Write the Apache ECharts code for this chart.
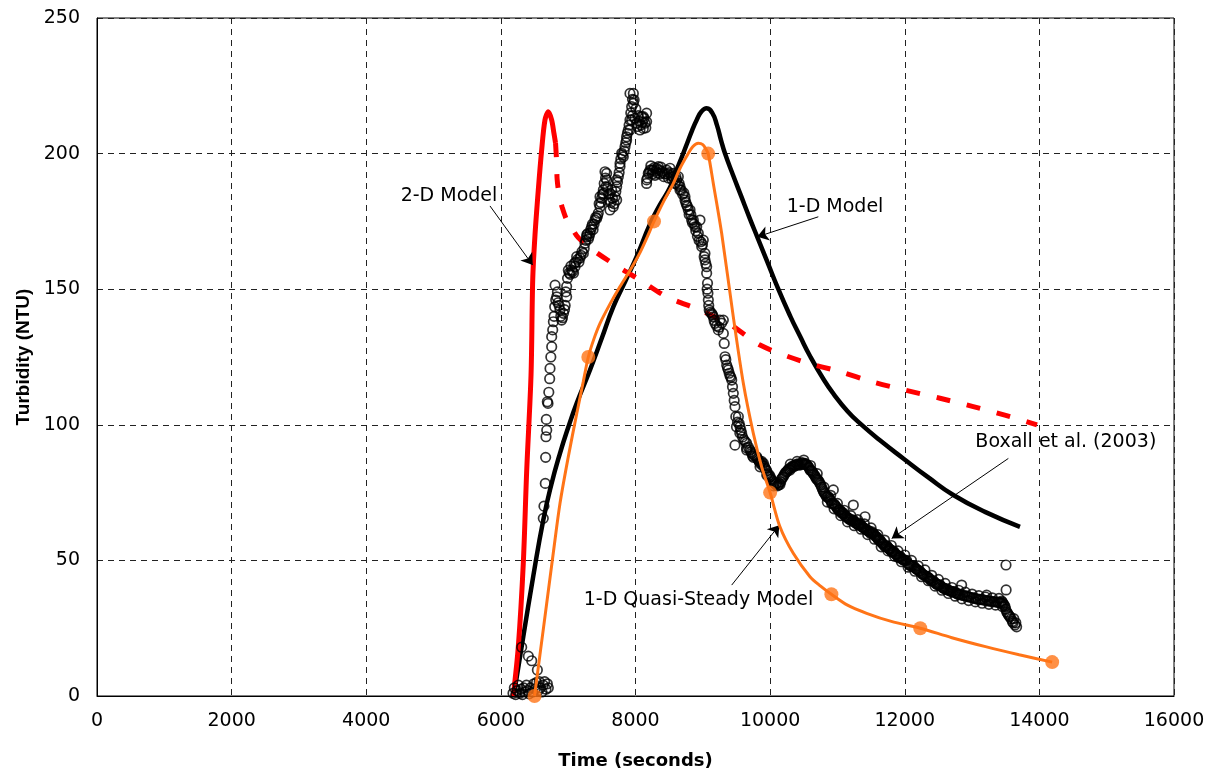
<!DOCTYPE html>
<html>
<head>
<meta charset="utf-8">
<script src="https://cdn.jsdelivr.net/npm/echarts@6/dist/echarts.min.js"></script>
<style>
html,body{margin:0;padding:0;background:#fff;}
#chart{width:1209px;height:775px;}
</style>
</head>
<body>
<div id="chart"></div>
<script>
// ---------- axis ticks ----------
const xTicks = {min: 0, max: 16000, step: 2000};
const yTicks = {min: 0, max: 250, step: 50};

// ---------- 2-D Model (solid part) [time s, turbidity NTU] ----------
const model2DSolid = [[6184,0],[6259,18.2],[6333,48.9],[6384,83.3],[6448,118.4],[6473,153.4],[6507,170],[6556,186.6],[6606,201.3],[6655,212.4],[6705,215.4],[6754,212.4],[6789,207.4],[6812,203.9]];

// ---------- 2-D Model (dashed continuation) ----------
const model2DDashed = [[6812,203.9],[6828,197],[6836,190.5],[6870,184],[6908,180.4],[6970,176],[7037,173.3],[7150,169],[7370,164.4],[7770,157.8],[8067,153.4],[8463,147.2],[8958,142.3],[9404,137],[9850,129.4],[10488,123.3],[11038,119.6],[11509,115.9],[12003,112.8],[12524,109.8],[13018,106.7],[13500,103.5],[13965,100]];

// ---------- 1-D Model ----------
const model1D = [[6190,0],[6333,21.9],[6480,44],[6630,64.9],[6750,78],[6878,89.5],[7000,99],[7126,107.9],[7324,120.2],[7500,132],[7670,143.5],[7850,153],[8017,162],[8215,174],[8360,181],[8512,187.5],[8611,194],[8700,199.5],[8770,204],[8840,208.5],[8909,212.4],[8980,215.5],[9057,216.7],[9140,215],[9210,210.5],[9270,205],[9330,200],[9450,192],[9570,184.3],[9690,176.6],[9810,169.2],[9960,160],[10122,150],[10300,140],[10443,132.7],[10600,125],[10800,116.5],[10939,111.5],[11150,105],[11335,100.5],[11650,93.9],[11978,87.6],[12350,80.6],[12721,74.1],[13200,67.8],[13712,62.4]];

// ---------- 1-D Quasi-Steady Model: curve and computed points ----------
const quasiCurve = [[6500,0],[6590,17],[6681,34.2],[6780,53],[6878,71],[7000,88],[7126,104],[7225,116],[7299,125],[7380,131.5],[7473,137.4],[7620,144.5],[7770,151],[7920,157],[8067,163.5],[8170,169],[8275,175],[8420,182.5],[8562,189],[8660,194.5],[8760,199],[8850,202.5],[8933,203.8],[9000,203.3],[9050,201.5],[9080,200],[9156,189],[9280,170.6],[9453,139.8],[9602,115.3],[9750,96.9],[9874,84.5],[10000,75],[10146,62.4],[10344,52.6],[10592,44],[10750,40.5],[10910,37.5],[11150,33.5],[11434,30.5],[11800,27.5],[12230,25],[12700,21.5],[13200,18.2],[13700,15.2],[14190,12.5]];
const quasiPoints = [[6500,0],[7299,125],[8275,175],[9080,200],[10000,75],[10910,37.5],[12230,25],[14190,12.5]];

// ---------- Boxall et al. (2003) measurements ----------
const boxallRise = [[6180,1],[6200,3],[6220,0.5],[6240,2],[6260,4],[6280,1],[6300,2.5],[6309,18],[6320,0.5],[6340,3],[6360,1.5],[6380,4],[6400,2],[6408,14.7],[6420,0.8],[6440,3],[6458,13],[6470,1.5],[6490,4.5],[6510,2.5],[6530,5],[6542,9.6],[6555,2],[6570,5.3],[6590,3],[6610,1.5],[6630,4],[6650,5.3],[6670,2.5],[6690,4.5],[6705,3],
[6630,65.5],[6660,78.4],[6670,95.6],[6681,98],[6700,107.9],[6690,108.5],[6725,117],[6730,120.8],[6755,128.8],[6755,132.5],[6780,138],[6800,143.5],[6830,147.2],[6805,151.5],[6850,145],[6878,142.3],[6903,138.6],[6930,141.1],[6955,144],[6977,147.2],[6977,151],[7002,157],[7030,155.5],[7052,157],[7080,156],[7101,158.3],[7126,162],[7160,160],[7190,162.5],[7225,163.2],[7250,166.9],[7275,169.3],[7275,170],[7300,168.5],[7324,170.6],[7349,173],[7370,172],[7398,175.5],[7423,176.1],[7447,178],[7473,180.4],[7473,184.1],[7497,183.5],[7522,186.6],[7522,185.3],[7547,193.3],[7560,187.8],[7571,192.7],[7571,190.3],[7600,185],[7621,185.3],[7621,179.2],[7645,186.6],[7670,180.4],[7695,184.1],[7720,187.8],[7720,182.9],[7720,190.3],[7745,191.5],[7770,195.2],[7770,196.4],[7795,200.1],[7819,198.8],[7844,202.5],[7868,205],[7868,206.2],[7893,208.7],[7918,208.7],[7918,212.4],[7918,222.2],[7943,212.4],[7943,217.3],[7968,218.5],[7968,222.2],[7980,219.8],[8017,211.2],[8040,214],[8067,208.7],[8091,213.6],[8116,213.6],[8116,209.3],[8141,211.2],[8165,211.8],[8165,214.9]];
const boxallRiseExtra = [[6640,70],[6665,88],[6675,102],[6712,112],[6742,125],[6770,135],[6790,140],[6815,146],[6840,149],[6865,144],[6890,140],[6915,139.5],[6945,142.5],[6965,149],[6990,154],[7015,156],[7040,158.5],[7065,156.5],[7090,159.5],[7113,160],[7140,161],[7175,161.5],[7205,163.8],[7238,165],[7262,168],[7288,170.5],[7312,169.5],[7336,172],[7360,174],[7385,174],[7410,176.5],[7435,177],[7460,181.5],[7485,182],[7510,185],[7535,189],[7555,191],[7585,187.5],[7610,183],[7633,182],[7658,183.5],[7683,181.5],[7708,186],[7733,189.5],[7757,193],[7782,198],[7807,199.5],[7832,201],[7856,204],[7880,207.5],[7905,210.5],[7930,215],[7955,220],[7955,214],[7990,213],[8005,216.5],[8030,210],[8055,212],[8080,210.5],[8103,211.5],[8128,213],[8153,209.5]];
const boxallFall = [[8165,190.3],[8165,189],[8190,192.7],[8215,193.9],[8240,194],[8264,193.9],[8290,192],[8315,194.5],[8339,195.2],[8365,192.5],[8390,193.5],[8420,191.5],[8463,193.9],[8490,191],[8512,194.6],[8540,190.5],[8562,192.7],[8590,189],[8611,190.3],[8636,191.5],[8661,187.8],[8661,186.6],[8700,185],[8735,184.1],[8735,182.9],[8760,181],[8785,179.2],[8810,179.2],[8834,175.5],[8859,175.5],[8884,173],[8909,173],[8933,170.6],[8958,175.5],[8983,165.7],[9007,168.1],[9032,163.2],[9032,160.8],[9057,158.3],[9057,155.9],[9070,152.2],[9082,146],[9095,142.3],[9132,141.1],[9156,139.8],[9181,137.4],[9230,135],[9255,138.6],[9305,138.6],[9305,133.7],[9330,125.1],[9355,122],[9379,120.2],[9405,118],[9429,116.5],[9453,111.6],[9466,109],[9478,106.7],[9500,99.3],[9528,103],[9553,99.3],[9577,96.9],[9478,92.5],[9610,94.5],[9651,93.2],[9651,90.7],[9701,90.7],[9730,89.5],[9750,89],[9800,88.2],[9825,87],[9850,85.8],[9875,86.5],[9899,85.8],[9925,84],[9950,83],[9974,81],[10000,80.9],[10030,79.5],[10060,78.5],[10097,78.4],[10124,77.8],[10146,78],[10170,80],[10196,80.9],[10220,82],[10246,82.7],[10270,83.5],[10295,83.3],[10320,84.5],[10350,84.5],[10380,85],[10410,85.5],[10443,85.2],[10470,86],[10493,85.5],[10520,85.8],[10542,85.3],[10570,84.5],[10592,83.3],[10620,83],[10641,82],[10670,81],[10691,80],[10715,79.5],[10740,78.4],[10765,77],[10790,75.5],[10815,74.5],[10839,73.5],[10865,73.5],[10889,72.5],[10915,71],[10939,76],[10960,70.5],[10990,69.5],[11015,68.5],[11038,68.6],[11060,67.5],[11087,67.5],[11110,66.5],[11140,66],[11160,65.5],[11190,65],[11236,70.4],[11236,64.9],[11260,64],[11290,63.5],[11315,63],[11335,63.7],[11360,62.5],[11390,62],[11410,66.1],[11434,61.2],[11460,61],[11490,60],[11515,60.5],[11533,60],[11560,59],[11590,58.5],[11610,57.5],[11632,57.5],[11660,56.5],[11680,56],[11710,55],[11730,55.5],[11760,54.5],[11780,54],[11810,53],[11830,53.5],[11860,52.5],[11880,52],[11910,51],[11930,51.5],[11960,50.5],[11990,50],[12028,50],[12060,48.5],[12090,48],[12130,48],[12160,47],[12190,46.5],[12226,46],[12260,45],[12290,44.5],[12330,44],[12360,43.5],[12390,42.5],[12424,42.5],[12460,41.5],[12490,41],[12520,41],[12560,40],[12590,39.5],[12622,39.5],[12650,39],[12690,38.5],[12720,38.5],[12760,38],[12790,37.5],[12821,37.5],[12845,40.9],[12870,37],[12920,36.8],[12960,36.5],[13018,36.2],[13060,35.8],[13118,35.6],[13160,35.5],[13216,35.2],[13216,37.2],[13260,35],[13320,34.8],[13370,34.6],[13415,34.5],[13440,35],[13464,34],[13489,33],[13504,48.3],[13506,39.1],[13514,31],[13540,30],[13563,29.2],[13600,27.5],[13620,28.5],[13637,26.2],[13662,25.5],[13650,27]];
const boxallFallExtra = [[8178,191],[8202,193],[8228,195.5],[8252,192.5],[8277,194.8],[8302,193.5],[8327,192.8],[8352,194],[8378,195],[8405,193],[8440,192.5],[8476,192.5],[8500,193],[8525,192],[8550,191.5],[8575,190.5],[8600,191.5],[8625,188.5],[8648,189],[8680,186.5],[8718,185.5],[8748,182],[8772,180.5],[8797,177.5],[8822,177.5],[8846,174.5],[8872,174],[8896,171.5],[8920,169.5],[8945,168],[8970,167.5],[8995,166.5],[9020,162],[9044,159.5],[9064,150],[9076,148.5],[9088,144],[9110,141.5],[9144,140.5],[9168,138.5],[9205,136.5],[9242,136],[9280,137.5],[9318,130],[9342,124],[9367,121],[9392,119],[9417,117.5],[9441,114],[9490,103],[9515,101],[9540,100.5],[9565,98],[9590,95.5],[9630,93.8],[9676,91.8],[9715,90],[9740,88.5],[9775,88.6],[9812,87.5],[9838,86.5],[9862,86.2],[9887,85],[9912,84.8],[9937,83.5],[9962,82],[9987,81.5],[10015,80],[10045,79],[10080,78],[10110,77.5],[10135,78.5],[10158,79],[10183,80.5],[10208,81.5],[10233,82.5],[10258,83],[10283,83.8],[10308,84],[10335,84.8],[10365,85],[10395,85.5],[10427,85.2],[10457,85.5],[10482,86],[10507,85.5],[10531,85.5],[10556,85],[10581,84],[10606,83],[10631,82.5],[10656,81.5],[10680,80.5],[10703,79.8],[10728,79],[10752,77.8],[10778,76.2],[10802,75],[10827,74],[10852,73.5],[10877,73],[10902,72],[10927,71],[10950,70.8],[10975,70],[11002,69],[11026,68.5],[11050,68],[11073,67.5],[11098,67],[11125,66.2],[11150,65.8],[11175,65.2],[11205,65],[11222,64.5],[11248,64.5],[11275,63.8],[11302,63.2],[11325,63.2],[11348,63],[11375,62.2],[11400,61.8],[11422,61.5],[11447,61],[11475,60.5],[11502,60.2],[11524,60],[11546,59.5],[11575,58.8],[11600,58],[11621,57.5],[11646,57],[11670,56.2],[11695,55.5],[11720,55.2],[11745,55],[11770,54.2],[11795,53.5],[11820,53.2],[11845,53],[11870,52.2],[11895,51.5],[11920,51.2],[11945,51],[11975,50.2],[12010,50],[12045,49],[12075,48.2],[12110,48],[12145,47.5],[12175,46.8],[12208,46.2],[12243,45.5],[12275,44.8],[12310,44.2],[12345,43.8],[12375,43],[12407,42.5],[12442,42],[12475,41.2],[12505,41],[12540,40.5],[12575,39.8],[12606,39.5],[12636,39.2],[12670,38.8],[12705,38.5],[12740,38.2],[12775,37.8],[12805,37.5],[12845,37.2],[12895,37],[12940,36.6],[12990,36.3],[13040,36],[13090,35.7],[13140,35.5],[13190,35.3],[13240,35.1],[13290,34.9],[13345,34.7],[13395,34.5],[13430,34.2],[13452,34.5],[13478,33.5],[13500,32],[13527,30.5],[13552,29.5],[13580,28.5],[13610,27]];
const boxallBandLower = [[9550,97],[9650,91.5],[9750,88],[9850,84.5],[9950,81.5],[10050,77.5],[10850,71.5],[10950,69],[11050,66.5],[11150,64.2],[11250,62.8],[11350,61.5],[11450,59.5],[11550,57.8],[11650,55],[11750,53.5],[11850,51.5],[11950,49.5],[12050,47.5],[12150,46],[12250,44],[12350,42.5],[12450,40.5],[12550,39],[12650,37.8],[12750,36.8],[12850,35.8],[12950,35.2],[13050,34.7],[13150,34.2],[13250,33.8],[13350,33.5],[13450,33]];
const boxallBandUpper = [[10300,85.5],[10400,86.5],[10500,87],[10600,85],[10700,82],[10800,77],[10900,74],[11000,71],[11100,68.5],[11200,66.5],[11300,65],[11400,63.5],[11500,62],[11600,59.5],[11700,57.5],[11800,55.5],[11900,53.5],[12000,52],[12100,50],[12200,48],[12300,46.5],[12400,44.5],[12500,43],[12600,41.5],[12700,40],[12800,39],[12900,38.3],[13000,37.6],[13100,37],[13200,36.5],[13300,36.2],[13400,36]];

// ---------- annotations ----------
const annotationTexts = [
  {text: '2-D Model', at: [5229, 184.4]},
  {text: '1-D Model', at: [10964, 180.4]},
  {text: 'Boxall et al. (2003)', at: [14393, 93.8]},
  {text: '1-D Quasi-Steady Model', at: [8936, 35.4]}
];
const annotationArrows = [
  [[5838, 180.7], [6473, 158.9]],
  [[10716, 176.7], [9809, 169.3]],
  [[13539, 87.6], [11806, 58.1]],
  [[9429, 40.9], [10137, 63]]
];

const FONT = 'DejaVu Sans';
const ORANGE = '#FF7417';
const chart = echarts.init(document.getElementById('chart'), null, {renderer: 'canvas'});

const boxall = boxallRise.concat(boxallRiseExtra, boxallFall, boxallFallExtra, boxallBandLower, boxallBandUpper);

const option = {
  backgroundColor: '#fff',
  animation: false,
  grid: {left: 97, right: 35, top: 18, bottom: 79, show: true, borderColor: '#000', borderWidth: 1, backgroundColor: 'transparent'},
  xAxis: {
    type: 'value', min: xTicks.min, max: xTicks.max, interval: xTicks.step,
    name: 'Time (seconds)', nameLocation: 'middle', nameGap: 56,
    nameTextStyle: {fontFamily: FONT, fontWeight: 'bold', fontSize: 18, color: '#000'},
    axisLine: {show: true, lineStyle: {color: '#000', width: 1}},
    axisTick: {show: false},
    axisLabel: {fontFamily: FONT, fontSize: 19, color: '#000', margin: 16, formatter: v => String(v)},
    splitLine: {show: true, lineStyle: {color: '#222', width: 1, type: [6, 5]}}
  },
  yAxis: {
    type: 'value', min: yTicks.min, max: yTicks.max, interval: yTicks.step,
    name: 'Turbidity (NTU)', nameLocation: 'middle', nameGap: 64, nameRotate: 90,
    nameTextStyle: {fontFamily: 'Liberation Sans', fontWeight: 'bold', fontSize: 19, color: '#000'},
    axisLine: {show: true, lineStyle: {color: '#000', width: 1}},
    axisTick: {show: false},
    axisLabel: {fontFamily: FONT, fontSize: 19, color: '#000', margin: 17, formatter: v => String(v)},
    splitLine: {show: true, lineStyle: {color: '#222', width: 1, type: [6, 5]}}
  },
  series: [
    {
      name: '1-D Model', type: 'line', data: model1D, smooth: 0.5, showSymbol: false, z: 3,
      lineStyle: {color: '#000', width: 4.5}
    },
    {
      name: '2-D Model', type: 'line', data: model2DSolid, smooth: 0.3, showSymbol: false, z: 3,
      lineStyle: {color: '#FF0000', width: 5}
    },
    {
      name: '2-D Model (dashed)', type: 'line', data: model2DDashed, smooth: 0.3, showSymbol: false, z: 3,
      lineStyle: {color: '#FF0000', width: 5, type: [14, 17]}
    },
    {
      name: 'Boxall et al. (2003)', type: 'scatter', data: boxall, z: 4,
      symbol: 'circle', symbolSize: 9.5, large: false,
      itemStyle: {color: 'rgba(0,0,0,0)', borderColor: '#000', borderWidth: 1.7},
      markLine: {
        silent: true, symbol: ['none', 'arrow'], symbolSize: 11, animation: false,
        lineStyle: {color: '#000', width: 1, type: 'solid'},
        label: {show: false},
        data: annotationArrows.map(a => [{coord: a[0]}, {coord: a[1]}])
      },
      markPoint: {
        silent: true, symbol: 'circle', symbolSize: 1, animation: false,
        itemStyle: {color: 'rgba(0,0,0,0)'},
        data: annotationTexts.map(t => ({
          coord: t.at,
          label: {show: true, formatter: t.text, position: 'inside', fontFamily: FONT, fontSize: 19, color: '#000'}
        }))
      }
    },
    {
      name: '1-D Quasi-Steady Model', type: 'line', data: quasiCurve, smooth: 0.3, showSymbol: false, z: 5,
      lineStyle: {color: ORANGE, width: 3}
    },
    {
      name: '1-D Quasi-Steady Model points', type: 'scatter', data: quasiPoints, z: 6,
      symbol: 'circle', symbolSize: 14, itemStyle: {color: ORANGE}
    }
  ]
};
chart.setOption(option);
</script>
</body>
</html>
